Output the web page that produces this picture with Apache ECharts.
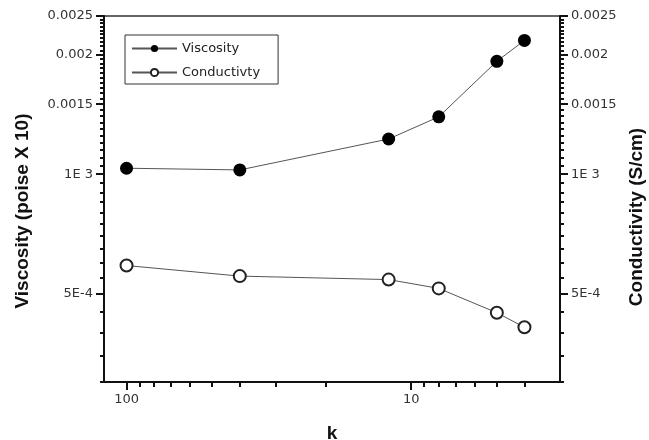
<!DOCTYPE html>
<html>
<head>
<meta charset="utf-8">
<script src="https://cdn.jsdelivr.net/npm/echarts@6/dist/echarts.min.js"></script>
<style>
html, body { margin: 0; padding: 0; background: #fff; }
#chart { width: 649px; height: 440px; }
</style>
</head>
<body>
<div id="chart"></div>
<script>
// data (k on a reversed log axis, values on a log axis)
const kValues = [100, 40, 12, 8, 5, 4]
const viscosity = [0.001035, 0.001025, 0.001226, 0.001394, 0.001923, 0.00217]
const conductivity = [0.000589, 0.000554, 0.000543, 0.000516, 0.000448, 0.000412]

const yTickValues = [0.0025, 0.002, 0.0015, 0.001, 0.0005]
const yTickLabels = ['0.0025', '0.002', '0.0015', '1E 3', '5E-4']
const xTickValues = [100, 10]
const xTickLabels = ['100', '10']
const xMinorTicks = [90, 80, 70, 60, 50, 40, 30, 20, 9, 8, 7, 6, 5, 4]

// minor y ticks every 5E-5, skipping the labelled ones
const yMinorTicks = []
for (let i = 6; i <= 50; i++) {
  const v = +(i * 0.00005).toFixed(5)
  if (!yTickValues.some(t => Math.abs(t - v) < 1e-9)) yMinorTicks.push(v)
}

const labelFont = { fontFamily: 'DejaVu Sans', fontSize: 13, color: '#333' }
const nameFont = { fontFamily: 'Liberation Sans', fontSize: 19, fontWeight: 'bold', color: '#111' }
const lineBlack = { color: '#111', width: 2 }

const fmtY = (v) => {
  const i = yTickValues.findIndex(t => Math.abs(t - v) / t < 1e-6)
  return i >= 0 ? yTickLabels[i] : ''
}
const fmtX = (v) => {
  const i = xTickValues.findIndex(t => Math.abs(t - v) / t < 1e-6)
  return i >= 0 ? xTickLabels[i] : ''
}

const yMajor = (pos, name, pad) => ({
  type: 'log', position: pos, min: 0.0003, max: 0.0025,
  name: name, nameLocation: 'middle', nameGap: pos === 'left' ? 72 : 66,
  nameTextStyle: Object.assign({ padding: pad }, nameFont),
  axisLine: { show: true, lineStyle: lineBlack },
  axisTick: { show: true, customValues: yTickValues, length: 8, lineStyle: lineBlack },
  axisLabel: Object.assign({ customValues: yTickValues, formatter: fmtY, margin: 11 }, labelFont),
  splitLine: { show: false }
})
const yMinor = (pos) => ({
  type: 'log', position: pos, min: 0.0003, max: 0.0025,
  axisLine: { show: false },
  axisTick: { show: true, customValues: yMinorTicks, length: 4, lineStyle: { color: '#111', width: 2 } },
  axisLabel: { show: false },
  splitLine: { show: false }
})

const chart = echarts.init(document.getElementById('chart'))

chart.setOption({
  backgroundColor: '#fff',
  animation: false,
  grid: {
    left: 104, right: 89, top: 16, bottom: 58,
    outerBoundsMode: 'none',
    show: true, borderColor: '#333', borderWidth: 1.5
  },
  legend: {
    data: ['Viscosity', 'Conductivty'],
    orient: 'vertical',
    left: 125,
    top: 35,
    padding: [7, 18, 5, 6],
    itemWidth: 45,
    itemHeight: 9,
    itemGap: 11,
    borderColor: '#333',
    borderWidth: 1,
    textStyle: { fontFamily: 'DejaVu Sans', fontSize: 13, color: '#222' }
  },
  xAxis: [
    {
      type: 'log', inverse: true, min: 3, max: 120, position: 'bottom',
      name: 'k', nameLocation: 'middle', nameGap: 42, nameTextStyle: nameFont,
      axisLine: { show: true, lineStyle: lineBlack },
      axisTick: { show: true, customValues: xTickValues, length: 8, lineStyle: lineBlack },
      axisLabel: Object.assign({ customValues: xTickValues, formatter: fmtX, margin: 11 }, labelFont),
      splitLine: { show: false }
    },
    {
      type: 'log', inverse: true, min: 3, max: 120, position: 'bottom',
      axisLine: { show: false },
      axisTick: { show: true, customValues: xMinorTicks, length: 5, lineStyle: { color: '#111', width: 2 } },
      axisLabel: { show: false },
      splitLine: { show: false }
    }
  ],
  yAxis: [
    yMajor('left', 'Viscosity (poise X 10)', [0, 24, 0, 0]),
    yMinor('left'),
    yMajor('right', 'Conductivity (S/cm)', [0, 36, 0, 0]),
    yMinor('right')
  ],
  series: [
    {
      name: 'Viscosity',
      type: 'line',
      xAxisIndex: 0,
      yAxisIndex: 0,
      data: kValues.map((k, i) => [k, viscosity[i]]),
      symbol: 'circle',
      symbolSize: 13,
      itemStyle: { color: '#000' },
      lineStyle: { color: '#555', width: 1 }
    },
    {
      name: 'Conductivty',
      type: 'line',
      xAxisIndex: 0,
      yAxisIndex: 0,
      data: kValues.map((k, i) => [k, conductivity[i]]),
      symbol: 'emptyCircle',
      symbolSize: 12,
      itemStyle: { color: '#222', borderWidth: 1 },
      lineStyle: { color: '#555', width: 1 }
    }
  ]
})
</script>
</body>
</html>
